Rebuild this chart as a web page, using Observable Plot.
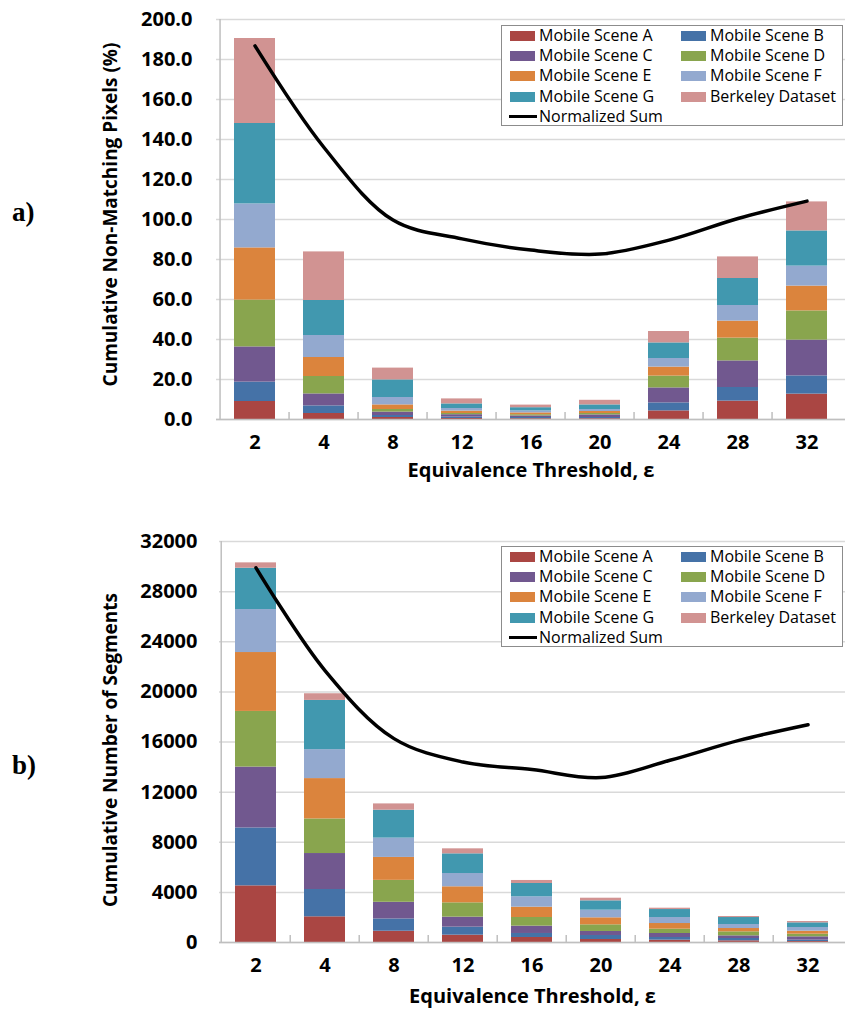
<!DOCTYPE html>
<html>
<head>
<meta charset="utf-8">
<script src="https://cdn.jsdelivr.net/npm/d3@7"></script>
<script src="https://cdn.jsdelivr.net/npm/@observablehq/plot@0.6"></script>
<style>
  html, body { margin: 0; padding: 0; background: #fff; }
  #page { position: relative; width: 846px; height: 1011px; overflow: hidden; }
  .panel { position: absolute; left: 0; }
  .tag { position: absolute; font-family: "Liberation Serif", "Times New Roman", serif; font-weight: bold; font-size: 27px; line-height: 1; }
  .legend { position: absolute; background: #fff; border: 1px solid #8c8c8c; box-sizing: border-box; font-family: "Open Sans", sans-serif; font-size: 16px; color: #000; }
  .item { position: absolute; height: 20px; line-height: 20px; white-space: nowrap; }
  .sw { position: absolute; left: 0; top: 5px; width: 25px; height: 10px; }
  .ln { position: absolute; left: -1px; top: 8.5px; width: 28px; height: 3px; background: #000; }
  .lb { position: absolute; left: 29px; top: -1px; }
</style>
</head>
<body>
<div id="page"></div>
<script>
// ---- data ----
const thresholds = ["2", "4", "8", "12", "16", "20", "24", "28", "32"];
const seriesNames = ["Mobile Scene A", "Mobile Scene B", "Mobile Scene C", "Mobile Scene D",
                     "Mobile Scene E", "Mobile Scene F", "Mobile Scene G", "Berkeley Dataset"];
const seriesColors = ["#AA4643", "#4572A7", "#71588F", "#89A54E", "#DB843D", "#93A9CF", "#4198AF", "#D19392"];
const lineName = "Normalized Sum";

// (a) cumulative non-matching pixels (%)
const pixA    = [9.0, 3.0, 1.0, 0.5, 0.4, 0.4, 4.3, 9.2, 12.7];
const pixB    = [9.7, 3.8, 1.0, 0.7, 0.6, 0.6, 4.0, 6.8, 9.1];
const pixC    = [17.6, 6.0, 1.7, 1.2, 0.8, 1.3, 7.5, 13.3, 17.9];
const pixD    = [23.4, 8.7, 1.3, 0.6, 0.6, 0.7, 5.9, 11.4, 14.6];
const pixE    = [26.1, 9.5, 2.3, 1.2, 0.9, 1.0, 4.5, 8.5, 12.4];
const pixF    = [22.0, 11.0, 3.7, 1.3, 1.0, 1.0, 4.3, 7.8, 10.0];
const pixG    = [40.2, 17.5, 8.8, 2.3, 1.6, 2.3, 7.8, 13.5, 17.6];
const pixBerk = [42.5, 24.3, 5.9, 2.5, 1.3, 2.3, 5.7, 10.8, 14.5];
const pixNorm = [186.8, 136.0, 99.7, 90.3, 84.7, 82.7, 89.7, 100.5, 109.2];
const pixTicks = [0, 20, 40, 60, 80, 100, 120, 140, 160, 180, 200];

// (b) cumulative number of segments
const segA    = [4520, 2050, 900, 585, 400, 240, 186, 133, 80];
const segB    = [4620, 2180, 980, 640, 320, 320, 213, 186, 106];
const segC    = [4860, 2870, 1330, 800, 585, 320, 319, 212, 266];
const segD    = [4440, 2760, 1750, 1140, 690, 530, 345, 319, 212];
const segE    = [4700, 3220, 1830, 1280, 825, 560, 452, 266, 240];
const segF    = [3430, 2310, 1540, 1060, 825, 610, 478, 319, 292];
const segG    = [3300, 3930, 2230, 1570, 1065, 745, 638, 558, 372];
const segBerk = [425, 530, 500, 400, 240, 210, 107, 80, 106];
const segNorm = [29900, 21700, 16270, 14400, 13800, 13160, 14540, 16130, 17380];
const segTicks = [0, 4000, 8000, 12000, 16000, 20000, 24000, 28000, 32000];

const xTitle = "Equivalence Threshold, ε";
const yTitleA = "Cumulative Non-Matching Pixels (%)";
const yTitleB = "Cumulative Number of Segments";

// ---- build ----
const page = document.getElementById("page");
const W = 846;

function makeChart(o) {
  const rows = seriesNames.flatMap((s, i) => thresholds.map((t, j) => ({t, s, v: o.values[i][j]})));
  const lineRows = thresholds.map((t, j) => ({t, v: o.norm[j]}));
  const step = (W - o.ml - 1) / thresholds.length;
  const yMax = o.ticks[o.ticks.length - 1];
  return Plot.plot({
    width: W, height: o.height,
    marginTop: o.mt, marginBottom: o.mb, marginLeft: o.ml, marginRight: 1,
    style: {fontFamily: "'Open Sans', sans-serif", fontSize: "20px", fontWeight: "bold", color: "#000", background: "#fff", overflow: "visible"},
    x: {domain: thresholds, paddingInner: 0.4, paddingOuter: 0.2, tickSize: 0, tickPadding: o.xPad, label: null},
    y: {domain: [0, yMax], ticks: o.ticks, tickFormat: o.fmt, tickSize: 0, tickPadding: o.yPad, label: null},
    color: {domain: seriesNames, range: seriesColors},
    marks: [
      Plot.ruleY(o.ticks, {stroke: "#d9d9d9", strokeWidth: 1.5}),
      Plot.barY(rows, {x: "t", y: "v", fill: "s"}),
      Plot.ruleY([0], {stroke: "#bfbfbf", strokeWidth: 1.5}),
      Plot.ruleX([thresholds[0]], {y1: 0, y2: yMax, dx: -step / 2, stroke: "#bfbfbf", strokeWidth: 1.5}),
      Plot.ruleX(thresholds.slice(1), {y1: 0, y2: o.tickLen, dx: -step / 2, stroke: "#bfbfbf", strokeWidth: 1.5}),
      Plot.line(lineRows, {x: "t", y: "v", curve: "catmull-rom", stroke: "#000", strokeWidth: 3.5}),
      Plot.text([o.yTitle], {text: d => d, frameAnchor: "left", textAnchor: "middle", lineAnchor: "middle", rotate: -90, dx: o.yTitleDx, dy: o.yTitleDy, fontSize: 19, fontWeight: "bold"}),
      Plot.text([xTitle], {text: d => d, frameAnchor: "bottom", textAnchor: "middle", lineAnchor: "middle", dy: o.xTitleDy, fontSize: 20, fontWeight: "bold"})
    ]
  });
}

function addPanel(top, chart) {
  const d = document.createElement("div");
  d.className = "panel";
  d.style.top = top + "px";
  d.appendChild(chart);
  page.appendChild(d);
}

function addLegend(left, top) {
  const lg = document.createElement("div");
  lg.className = "legend";
  lg.style.left = left + "px";
  lg.style.top = top + "px";
  lg.style.width = "342px";
  lg.style.height = "101px";
  seriesNames.forEach((s, i) => {
    const it = document.createElement("div");
    it.className = "item";
    it.style.left = (i % 2 === 0 ? 8 : 179) + "px";
    it.style.top = (Math.floor(i / 2) * 20.2) + "px";
    it.innerHTML = `<div class="sw" style="background:${seriesColors[i]}"></div><div class="lb">${s}</div>`;
    lg.appendChild(it);
  });
  const it = document.createElement("div");
  it.className = "item";
  it.style.left = "8px";
  it.style.top = (4 * 20.2) + "px";
  it.innerHTML = `<div class="ln"></div><div class="lb">${lineName}</div>`;
  lg.appendChild(it);
  page.appendChild(lg);
}

function addTag(txt, left, top) {
  const t = document.createElement("div");
  t.className = "tag";
  t.style.left = left + "px";
  t.style.top = top + "px";
  t.textContent = txt;
  page.appendChild(t);
}

addPanel(0, makeChart({
  values: [pixA, pixB, pixC, pixD, pixE, pixF, pixG, pixBerk], norm: pixNorm, ticks: pixTicks,
  fmt: d3.format(".1f"), height: 485, mt: 19, mb: 66, ml: 216, xPad: 15, yPad: 24, tickLen: 3.5,
  yTitle: yTitleA, yTitleDx: -106, yTitleDy: -5, xTitleDy: 51
}));
addPanel(500, makeChart({
  values: [segA, segB, segC, segD, segE, segF, segG, segBerk], norm: segNorm, ticks: segTicks,
  fmt: d3.format("d"), height: 511, mt: 41, mb: 69, ml: 219, xPad: 15, yPad: 22, tickLen: 560,
  yTitle: yTitleB, yTitleDx: -109, yTitleDy: 8, xTitleDy: 54
}));
addLegend(501, 25);
addLegend(501, 546);
addTag("a)", 12, 199);
addTag("b)", 12, 752);
</script>
</body>
</html>
